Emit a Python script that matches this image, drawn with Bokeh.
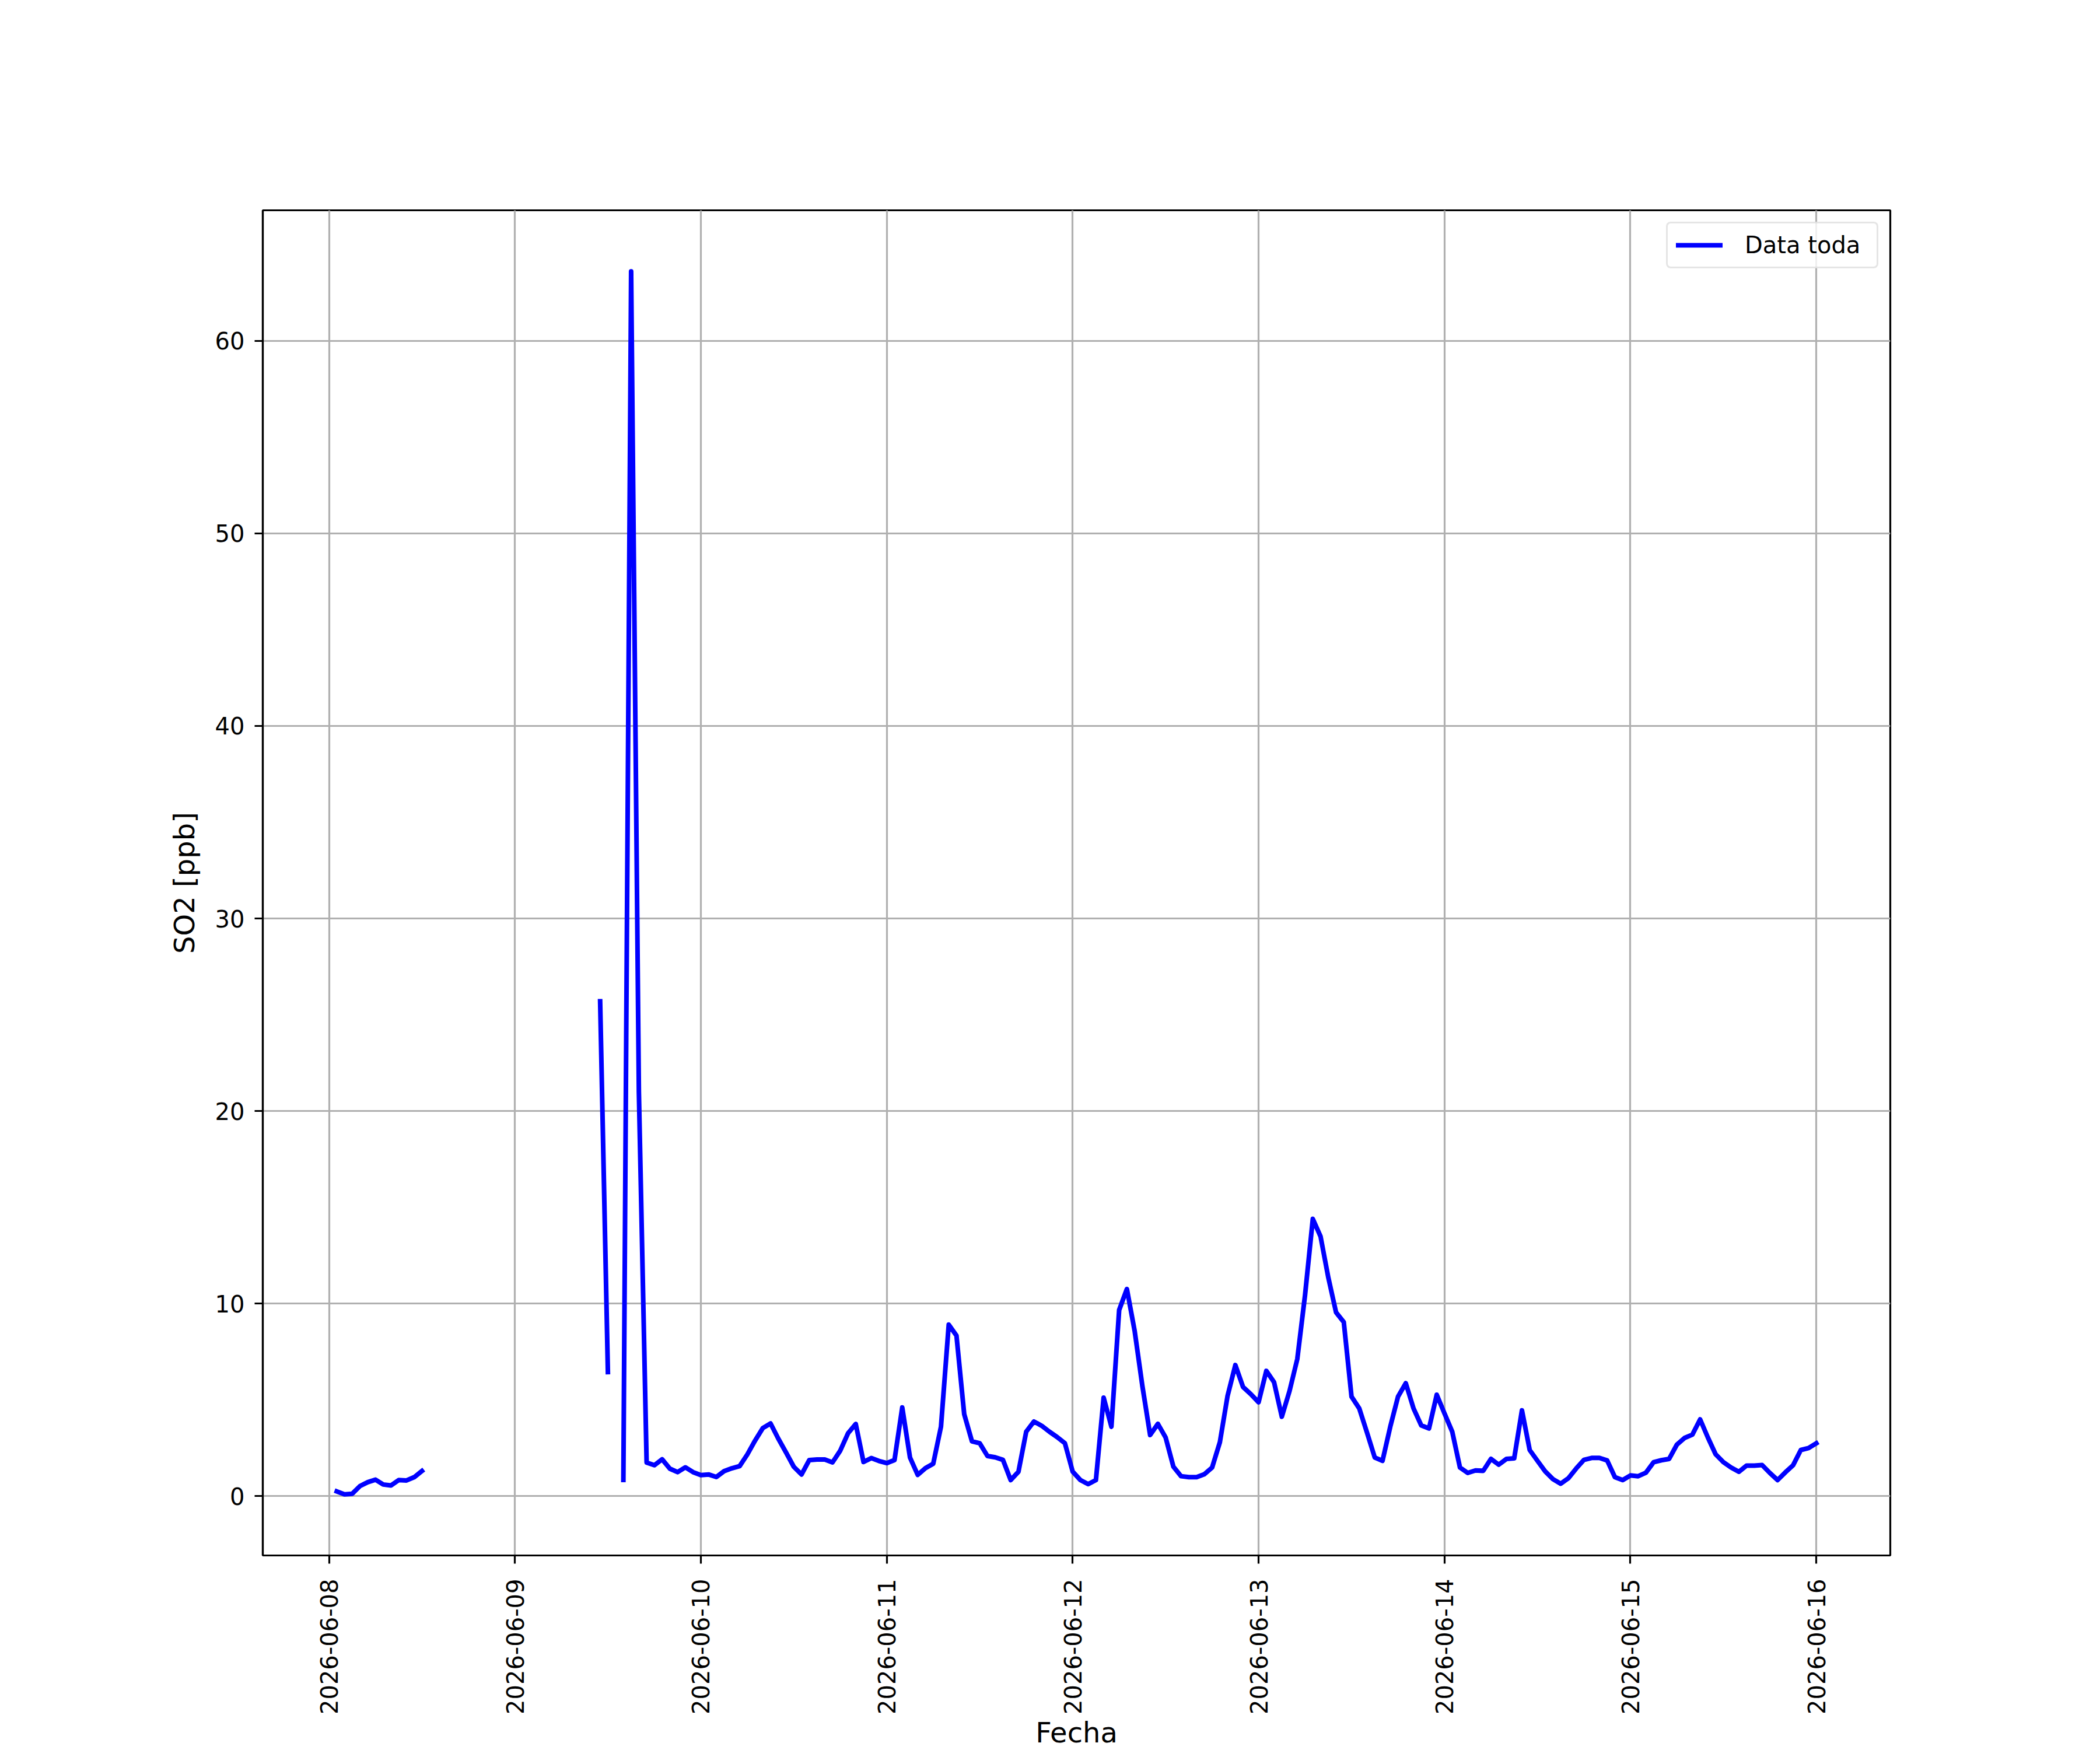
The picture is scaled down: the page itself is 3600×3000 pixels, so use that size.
import numpy as np
import pandas as pd
from bokeh.plotting import figure
from bokeh.models import (Range1d, FixedTicker, DatetimeTickFormatter, Legend,
                          LegendItem, ColumnDataSource)
from bokeh.embed import file_html
from bokeh.resources import INLINE

nan = float("nan")

# Hourly SO2 readings [ppb], one list per day (00:00 .. 23:00)
day_labels = ["2026-06-08", "2026-06-09", "2026-06-10", "2026-06-11", "2026-06-12",
              "2026-06-13", "2026-06-14", "2026-06-15", "2026-06-16"]

so2_0608 = [nan, 0.25, 0.10, 0.13, 0.53, 0.73, 0.86, 0.61, 0.56, 0.84, 0.82, 0.99,
            1.31, nan, nan, nan, nan, nan, nan, nan, nan, nan, nan, nan]
so2_0609 = [nan, nan, nan, nan, nan, nan, nan, nan, nan, nan, nan, 25.7,
            6.45, nan, 0.85, 63.6, 21.0, 1.75, 1.61, 1.92, 1.43, 1.25, 1.50, 1.25]
so2_0610 = [1.10, 1.13, 1.00, 1.30, 1.45, 1.56, 2.17, 2.89, 3.54, 3.78, 2.99, 2.27,
            1.53, 1.13, 1.88, 1.91, 1.91, 1.76, 2.37, 3.27, 3.75, 1.78, 1.98, 1.83]
so2_0611 = [1.72, 1.88, 4.61, 2.01, 1.11, 1.46, 1.69, 3.61, 8.91, 8.34, 4.26, 2.85,
            2.75, 2.09, 2.02, 1.89, 0.84, 1.27, 3.35, 3.88, 3.66, 3.35, 3.07, 2.75]
so2_0612 = [1.28, 0.84, 0.63, 0.84, 5.12, 3.61, 9.67, 10.76, 8.59, 5.72, 3.18, 3.76,
            3.05, 1.54, 1.04, 0.99, 0.99, 1.14, 1.49, 2.80, 5.22, 6.81, 5.67, 5.30]
so2_0613 = [4.88, 6.51, 5.92, 4.13, 5.47, 7.13, 10.45, 14.40, 13.49, 11.36, 9.55, 9.04,
            5.17, 4.56, 3.30, 2.01, 1.84, 3.61, 5.17, 5.87, 4.56, 3.68, 3.52, 5.27]
so2_0614 = [4.30, 3.35, 1.49, 1.21, 1.34, 1.32, 1.94, 1.64, 1.94, 1.97, 4.46, 2.40,
            1.84, 1.29, 0.89, 0.65, 0.94, 1.44, 1.89, 1.99, 1.99, 1.86, 0.99, 0.84]
so2_0615 = [1.08, 1.04, 1.22, 1.77, 1.87, 1.94, 2.68, 3.03, 3.20, 3.99, 3.05, 2.18,
            1.77, 1.49, 1.27, 1.59, 1.59, 1.62, 1.21, 0.84, 1.24, 1.61, 2.40, 2.50]
so2_0616 = [2.75]

y_ticks = [0, 10, 20, 30, 40, 50, 60]

values = (so2_0608 + so2_0609 + so2_0610 + so2_0611 + so2_0612 + so2_0613 +
          so2_0614 + so2_0615 + so2_0616)
times = pd.date_range(day_labels[0] + " 00:00", periods=len(values), freq="h")
t_ms = times.values.astype("datetime64[ms]").astype("int64").astype(float)
v = np.array(values, dtype=float)

ok = ~np.isnan(v)
tmin, tmax = t_ms[ok].min(), t_ms[ok].max()
vmin, vmax = v[ok].min(), v[ok].max()
tpad = 0.05 * (tmax - tmin)
vpad = 0.05 * (vmax - vmin)

src = ColumnDataSource(data=dict(t=t_ms, v=v))

FONT = "DejaVu Sans"

p = figure(width=3600, height=3000, x_axis_type="datetime",
           output_backend="svg", toolbar_location=None,
           x_range=Range1d(tmin - tpad, tmax + tpad),
           y_range=Range1d(vmin - vpad, vmax + vpad),
           min_border_left=450, min_border_right=360,
           min_border_top=360, min_border_bottom=330)
p.background_fill_color = "white"
p.border_fill_color = "white"
p.outline_line_color = "black"
p.outline_line_width = 3.2

r = p.line(x="t", y="v", source=src, line_color="#0000ff", line_width=8,
           line_join="round", line_cap="square")

tick_ms = pd.to_datetime(day_labels).values.astype("datetime64[ms]").astype("int64").astype(float)
p.xaxis.ticker = FixedTicker(ticks=list(tick_ms))
fmt = "%Y-%m-%d"
p.xaxis.formatter = DatetimeTickFormatter(days=fmt, months=fmt, hours=fmt, years=fmt,
                                          minutes=fmt, hourmin=fmt, seconds=fmt,
                                          minsec=fmt, milliseconds=fmt, microseconds=fmt)
p.xaxis.major_label_overrides = {float(t): lab for t, lab in zip(tick_ms, day_labels)}
p.xaxis.major_label_orientation = np.pi / 2
p.yaxis.ticker = FixedTicker(ticks=y_ticks)

for ax in (p.xaxis[0], p.yaxis[0]):
    ax.axis_line_color = "black"
    ax.axis_line_width = 3.2
    ax.major_tick_line_color = "black"
    ax.major_tick_line_width = 3.2
    ax.major_tick_out = 14
    ax.major_tick_in = 0
    ax.minor_tick_out = 0
    ax.minor_tick_in = 0
    ax.major_label_text_font = FONT
    ax.major_label_text_font_size = "40px"
    ax.major_label_text_color = "black"
    ax.axis_label_text_font = FONT
    ax.axis_label_text_font_size = "48px"
    ax.axis_label_text_font_style = "normal"
    ax.axis_label_text_color = "black"

p.xaxis.axis_label = "Fecha"
p.xaxis.major_label_standoff = 26
p.xaxis.axis_label_standoff = 0
p.yaxis.axis_label = "SO2 [ppb]"
p.yaxis.major_label_standoff = 17
p.yaxis.axis_label_standoff = 22

for g in (p.xgrid[0], p.ygrid[0]):
    g.grid_line_color = "#b0b0b0"
    g.grid_line_width = 3.2

legend = Legend(items=[LegendItem(label="Data toda", renderers=[r])],
                location="top_right", margin=20, padding=14, spacing=0,
                glyph_width=80, glyph_height=40, label_standoff=38,
                label_width=212,
                label_text_font=FONT, label_text_font_size="40px",
                label_text_color="black",
                border_line_color="#cccccc", border_line_width=3.2,
                background_fill_color="white", background_fill_alpha=0.8)
if "border_radius" in Legend.properties():
    legend.border_radius = 8
p.add_layout(legend)

open("out.html", "w").write(file_html(p, INLINE))
